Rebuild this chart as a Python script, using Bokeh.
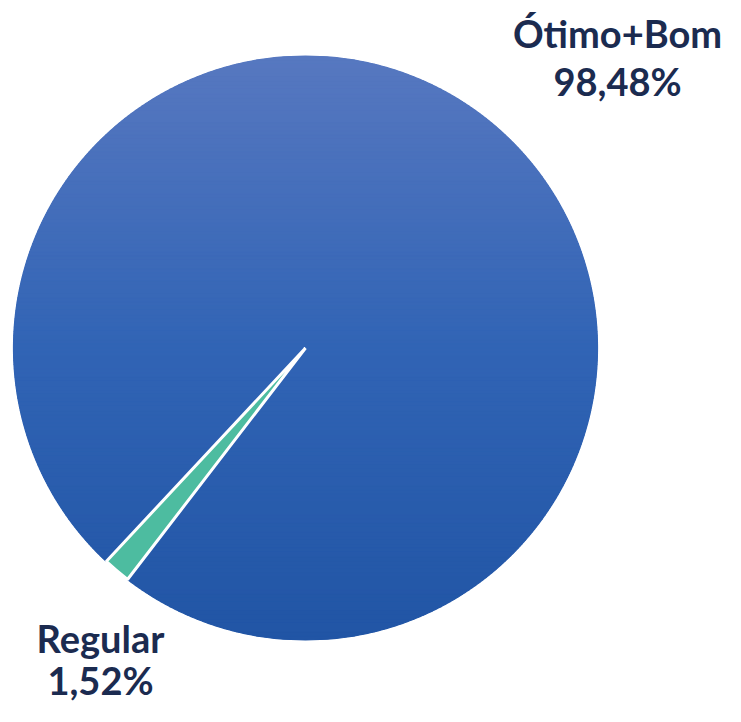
import numpy as np
from bokeh.plotting import figure
from bokeh.models import ColumnDataSource
from bokeh.core.properties import value
from bokeh.embed import file_html
from bokeh.resources import INLINE

# ---- data ----
labels = ["Ótimo+Bom", "Regular"]
values = [98.48, 1.52]
pct_labels = ["98,48%", "1,52%"]
colors = ["#3565b5", "#4dbca0"]

# gradient stops for the large slice (top -> bottom)
grad_top = (0x57, 0x78, 0xc0)
grad_mid = (0x31, 0x64, 0xb5)
grad_bot = (0x21, 0x55, 0xa5)

W, H = 725, 706
p = figure(width=W, height=H, x_range=(0, W), y_range=(0, H),
           output_backend="svg", toolbar_location=None, min_border=0)
p.axis.visible = False
p.grid.visible = False
p.outline_line_color = None
p.background_fill_color = "white"
p.border_fill_color = "white"

cx, cy, R = 305.0, 358.5, 292.0
rotation = np.deg2rad(226.97)  # where the "Regular" slice starts (ccw)

frac = np.array(values) / sum(values)
order = [1, 0]
starts, ends = [0.0] * len(values), [0.0] * len(values)
a = rotation
for i in order:
    starts[i] = a
    ends[i] = a + frac[i] * 2 * np.pi
    a = ends[i]

# big slice (base colour)
p.wedge(x=cx, y=cy, radius=R, start_angle="start", end_angle="end",
        fill_color="color", line_color=None, source=ColumnDataSource(
            dict(start=[starts[0]], end=[ends[0]], color=[colors[0]])))

# vertical gradient overlay for big slice (computed strips of the circle)
def lerp(c1, c2, t):
    return "#%02x%02x%02x" % tuple(int(round(c1[k] + (c2[k] - c1[k]) * t)) for k in range(3))

n = 140
xs, ys, cs = [], [], []
edges = np.linspace(cy + R, cy - R, n + 1)
for k in range(n):
    y0, y1 = edges[k], edges[k + 1]
    yy = np.linspace(y0, y1, 6)
    dx = np.sqrt(np.clip(R ** 2 - (yy - cy) ** 2, 0, None))
    px = list(cx + dx) + list((cx - dx)[::-1])
    py = list(yy) + list(yy[::-1])
    xs.append(px)
    ys.append(py)
    t = (k + 0.5) / n
    if t < 0.5:
        cs.append(lerp(grad_top, grad_mid, t / 0.5))
    else:
        cs.append(lerp(grad_mid, grad_bot, (t - 0.5) / 0.5))
p.patches(xs=xs, ys=ys, fill_color=cs, line_color=cs, line_width=1.2)

# small slice on top with white separator
p.wedge(x=cx, y=cy, radius=R, start_angle=starts[1], end_angle=ends[1],
        fill_color=colors[1], line_color="white", line_width=3)

txt = "#1b2b50"
font = value("Lato")
label_pos = {0: (617, 674, 626), 1: (100, 69, 27)}
for i in range(len(labels)):
    x, y1, y2 = label_pos[i]
    p.text(x=[x], y=[y1], text=[labels[i]], text_font=font, text_font_size="38px",
           text_font_style="bold", text_color=txt, text_align="center", text_baseline="alphabetic")
    p.text(x=[x], y=[y2], text=[pct_labels[i]], text_font=font, text_font_size="38px",
           text_font_style="bold", text_color=txt, text_align="center", text_baseline="alphabetic")

open("out.html", "w").write(file_html(p, INLINE))
